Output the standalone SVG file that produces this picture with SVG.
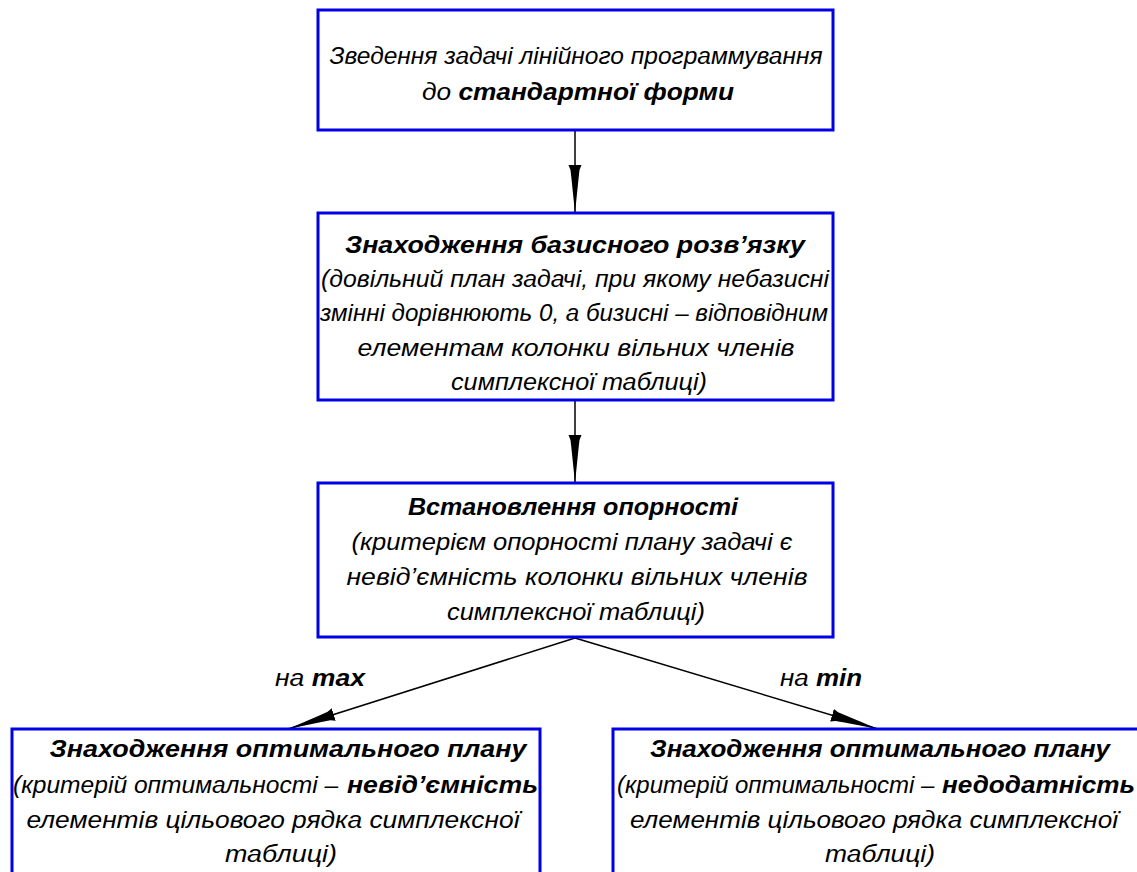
<svg xmlns="http://www.w3.org/2000/svg" width="1137" height="872" viewBox="0 0 1137 872">
<style>
.box{fill:#fff;stroke:#0000e6;stroke-width:3}
text{font-family:"Liberation Sans",Arial,sans-serif;font-style:italic;font-size:23px;fill:#000;text-anchor:middle}
.b{font-weight:bold}
.l{text-anchor:start}
.conn{stroke:#000;stroke-width:1.5;fill:none}
</style>
<defs>
<marker id="ah" markerUnits="userSpaceOnUse" viewBox="0 0 48 14" refX="48" refY="7" markerWidth="48" markerHeight="14" orient="auto">
<path d="M0,0.5 L5,2.5 L14,3.5 L48,7 L14,10.5 L5,11.5 L0,13.5 Z" fill="#000"/>
</marker>
</defs>
<rect width="1137" height="872" fill="#fff"/>
<g id="connectors">
<line class="conn" x1="575" y1="131" x2="575" y2="213" marker-end="url(#ah)"/>
<line class="conn" x1="575" y1="400" x2="575" y2="483" marker-end="url(#ah)"/>
<line class="conn" x1="575" y1="638" x2="288" y2="729" marker-end="url(#ah)"/>
<line class="conn" x1="575" y1="638" x2="878" y2="729" marker-end="url(#ah)"/>
<text class="l" x="275" y="686" textLength="90" lengthAdjust="spacingAndGlyphs">на <tspan class="b">max</tspan></text>
<text class="l" x="780" y="686" textLength="82" lengthAdjust="spacingAndGlyphs">на <tspan class="b">min</tspan></text>
</g>
<g id="node1">
<rect class="box" x="318" y="10" width="515" height="120"/>
<text x="576" y="64" textLength="493" lengthAdjust="spacingAndGlyphs">Зведення задачі лінійного программування</text>
<text x="578" y="100" textLength="312" lengthAdjust="spacingAndGlyphs">до <tspan class="b">стандартної форми</tspan></text>
</g>
<g id="node2">
<rect class="box" x="318" y="213" width="515" height="187"/>
<text class="b" x="575" y="253" textLength="460" lengthAdjust="spacingAndGlyphs">Знаходження базисного розв’язку</text>
<text x="575" y="287" textLength="508" lengthAdjust="spacingAndGlyphs">(довільний план задачі, при якому небазисні</text>
<text x="574" y="321" textLength="508" lengthAdjust="spacingAndGlyphs">змінні дорівнюють 0, а бизисні – відповідним</text>
<text x="576" y="356" textLength="437" lengthAdjust="spacingAndGlyphs">елементам колонки вільних членів</text>
<text x="579" y="390" textLength="256" lengthAdjust="spacingAndGlyphs">симплексної таблиці)</text>
</g>
<g id="node3">
<rect class="box" x="318" y="483" width="515" height="154"/>
<text class="b" x="573" y="515" textLength="330" lengthAdjust="spacingAndGlyphs">Встановлення опорності</text>
<text x="572" y="550" textLength="441" lengthAdjust="spacingAndGlyphs">(критерієм опорності плану задачі є</text>
<text x="577" y="585" textLength="461" lengthAdjust="spacingAndGlyphs">невід’ємність колонки вільних членів</text>
<text x="576" y="620" textLength="258" lengthAdjust="spacingAndGlyphs">симплексної таблиці)</text>
</g>
<g id="node4">
<rect class="box" x="12" y="729" width="528" height="150"/>
<text class="b" x="288" y="757" textLength="477" lengthAdjust="spacingAndGlyphs">Знаходження оптимального плану</text>
<text class="l" x="13" y="793"><tspan textLength="332" lengthAdjust="spacingAndGlyphs">(критерій оптимальності – </tspan><tspan class="b" x="347" textLength="191" lengthAdjust="spacingAndGlyphs">невід’ємність</tspan></text>
<text x="273" y="828" textLength="493" lengthAdjust="spacingAndGlyphs">елементів цільового рядка симплексної</text>
<text x="281" y="862" textLength="112" lengthAdjust="spacingAndGlyphs">таблиці)</text>
</g>
<g id="node5">
<rect class="box" x="613" y="729" width="530" height="150"/>
<text class="b" x="880" y="757" textLength="460" lengthAdjust="spacingAndGlyphs">Знаходження оптимального плану</text>
<text class="l" x="617" y="793"><tspan textLength="324" lengthAdjust="spacingAndGlyphs">(критерій оптимальності – </tspan><tspan class="b" x="942" textLength="193" lengthAdjust="spacingAndGlyphs">недодатність</tspan></text>
<text x="874" y="828" textLength="488" lengthAdjust="spacingAndGlyphs">елементів цільового рядка симплексної</text>
<text x="880" y="862" textLength="110" lengthAdjust="spacingAndGlyphs">таблиці)</text>
</g>
</svg>
